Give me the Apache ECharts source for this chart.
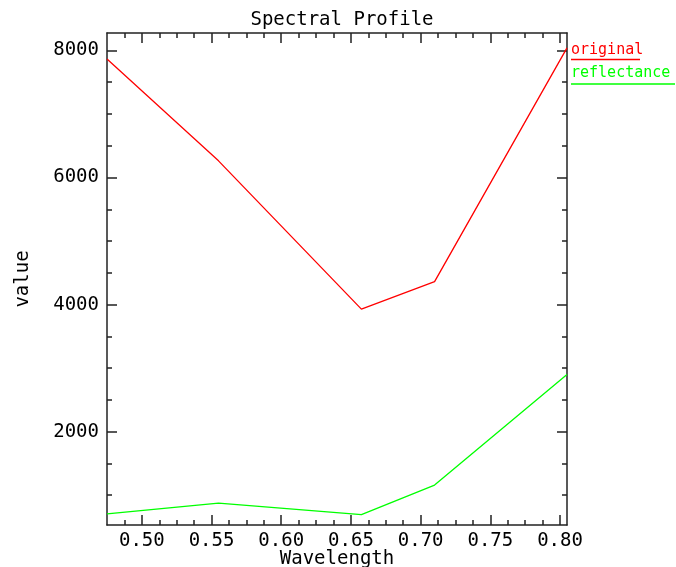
<!DOCTYPE html>
<html>
<head>
<meta charset="utf-8">
<script src="https://cdn.jsdelivr.net/npm/echarts@6/dist/echarts.min.js"></script>
<style>
html,body{margin:0;padding:0;background:#fff;}
#chart{width:676px;height:567px;}
</style>
</head>
<body>
<div id="chart"></div>
<script>
// ---- data ----
const wavelengths = [0.475, 0.555, 0.6575, 0.710, 0.805];
const originalValues = [7865, 6262, 3928, 4362, 8040];
const reflectanceValues = [705, 875, 695, 1160, 2900];
const xMajorTicks = [0.50, 0.55, 0.60, 0.65, 0.70, 0.75, 0.80];
const xMinorTicks = [0.4875, 0.5125, 0.525, 0.5375, 0.5625, 0.575, 0.5875, 0.6125, 0.625, 0.6375,
                     0.6625, 0.675, 0.6875, 0.7125, 0.725, 0.7375, 0.7625, 0.775, 0.7875];
const yMajorTicks = [2000, 4000, 6000, 8000];
const yMinorTicks = [1000, 1500, 2500, 3000, 3500, 4500, 5000, 5500, 6500, 7000, 7500];
const X_MIN = 0.475, X_MAX = 0.805;
const Y_MIN = 531, Y_MAX = 8274;

const FONT = '"DejaVu Sans Mono", monospace';
const AXIS_COLOR = '#222';
const lineStyle = {color: AXIS_COLOR, width: 1.5};

function xAx(pos, major, withLine, withLabel) {
  return {
    type: 'value', min: X_MIN, max: X_MAX, position: pos,
    splitLine: {show: false},
    axisLine: {show: withLine, onZero: false, lineStyle},
    axisTick: {show: true, inside: true, length: major ? 10 : 5,
               customValues: major ? xMajorTicks : xMinorTicks, lineStyle},
    axisLabel: withLabel ? {show: true, customValues: xMajorTicks, margin: 7,
               formatter: v => v.toFixed(2), color: '#000', fontSize: 19, fontFamily: FONT}
             : {show: false},
    name: withLabel ? 'Wavelength' : '',
    nameLocation: 'middle', nameGap: 25, nameMoveOverlap: false,
    nameTextStyle: {color: '#000', fontSize: 19, fontFamily: FONT}
  };
}
function yAx(pos, major, withLine, withLabel) {
  return {
    type: 'value', min: Y_MIN, max: Y_MAX, position: pos,
    splitLine: {show: false},
    axisLine: {show: withLine, onZero: false, lineStyle},
    axisTick: {show: true, inside: true, length: major ? 10 : 5,
               customValues: major ? yMajorTicks : yMinorTicks, lineStyle},
    axisLabel: withLabel ? {show: true, customValues: yMajorTicks, margin: 8,
               formatter: v => String(v), color: '#000', fontSize: 19, fontFamily: FONT}
             : {show: false},
    name: withLabel ? 'value' : '',
    nameLocation: 'middle', nameGap: 74, nameMoveOverlap: false,
    nameTextStyle: {color: '#000', fontSize: 19, fontFamily: FONT}
  };
}

const chart = echarts.init(document.getElementById('chart'), null, {renderer: 'canvas'});
chart.setOption({
  animation: false,
  backgroundColor: '#fff',
  title: {
    text: 'Spectral Profile', left: 337, textAlign: 'center', top: 6,
    textStyle: {color: '#000', fontSize: 19, fontWeight: 'normal', fontFamily: FONT}
  },
  grid: {left: 107, right: 109, top: 33, bottom: 42, containLabel: false, outerBoundsMode: 'none'},
  xAxis: [
    xAx('bottom', true, true, true),
    xAx('bottom', false, false, false),
    xAx('top', true, true, false),
    xAx('top', false, false, false)
  ],
  yAxis: [
    yAx('left', true, true, true),
    yAx('left', false, false, false),
    yAx('right', true, true, false),
    yAx('right', false, false, false)
  ],
  series: [
    {name: 'original', type: 'line', xAxisIndex: 0, yAxisIndex: 0, symbol: 'none',
     lineStyle: {color: '#ff0000', width: 1.3},
     data: wavelengths.map((w, i) => [w, originalValues[i]])},
    {name: 'reflectance', type: 'line', xAxisIndex: 0, yAxisIndex: 0, symbol: 'none',
     lineStyle: {color: '#00ff00', width: 1.3},
     data: wavelengths.map((w, i) => [w, reflectanceValues[i]])}
  ],
  graphic: [
    {type: 'text', left: 571, top: 43,
     style: {text: 'original', fill: '#ff0000', font: '15px ' + FONT}},
    {type: 'line', shape: {x1: 571, y1: 59.5, x2: 640, y2: 59.5},
     style: {stroke: '#ff0000', lineWidth: 1.5}},
    {type: 'text', left: 571, top: 66,
     style: {text: 'reflectance', fill: '#00ff00', font: '15px ' + FONT}},
    {type: 'line', shape: {x1: 571, y1: 84, x2: 675, y2: 84},
     style: {stroke: '#00ff00', lineWidth: 1.5}}
  ]
});
</script>
</body>
</html>
